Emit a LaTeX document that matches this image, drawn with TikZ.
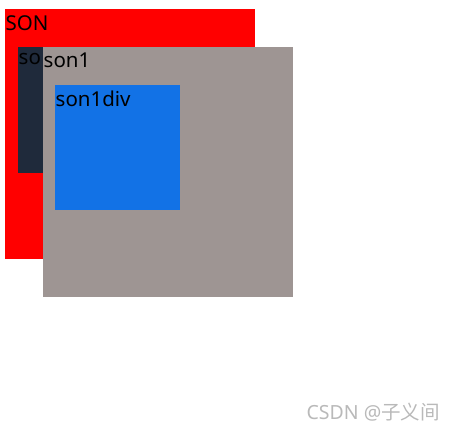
\documentclass[tikz,border=0pt]{standalone}
\usepackage{fontspec}
\setmainfont{Noto Sans}
\newfontfamily\cjk{Noto Sans CJK SC}
\usetikzlibrary{positioning}
\definecolor{sonred}{RGB}{255,0,0}
\definecolor{sondark}{RGB}{31,42,59}
\definecolor{songray}{RGB}{158,149,147}
\definecolor{sonblue}{RGB}{18,114,230}
\definecolor{markgray}{RGB}{185,185,185}

\begin{document}
\begin{tikzpicture}[x=1pt,y=-1pt,
    box/.style={draw=none, inner sep=0pt, anchor=north west},
    tag/.style={inner xsep=0.5pt, inner ysep=6pt, anchor=north west, font=\fontsize{20.5}{22}\selectfont, text=black}]
        % Umgebung
        \useasboundingbox (0,0) rectangle (454,432);
        
        % Kaesten
        \node[box, fill=sonred, minimum width=250pt, minimum height=250pt] (son) at (5,9) {};
        \node[box, fill=sondark, minimum width=125pt, minimum height=126pt] (sonzwei) at (18,47) {};
        \node[tag] (sonzweitext) at (sonzwei.north west) {so};
        \node[box, fill=songray, minimum width=250pt, minimum height=250pt] (sonone) at (43,47) {};
        \node[box, fill=sonblue, minimum width=125pt, minimum height=125pt] (sononediv) at (55,85) {};
        
        % Beschriftungen
        \node[tag] (sontext) at (son.north west) {SON};
        \node[tag] (sononetext) at (sonone.north west) {son1};
        \node[tag] (sononedivtext) at (sononediv.north west) {son1div};
        
        % Wasserzeichen
        \node[anchor=east, inner sep=0pt, text=markgray, font=\fontsize{19.5}{21}\selectfont] (mark) at (440,412) {CSDN @{\cjk 子义间}};
        
    \end{tikzpicture}
\end{document}
